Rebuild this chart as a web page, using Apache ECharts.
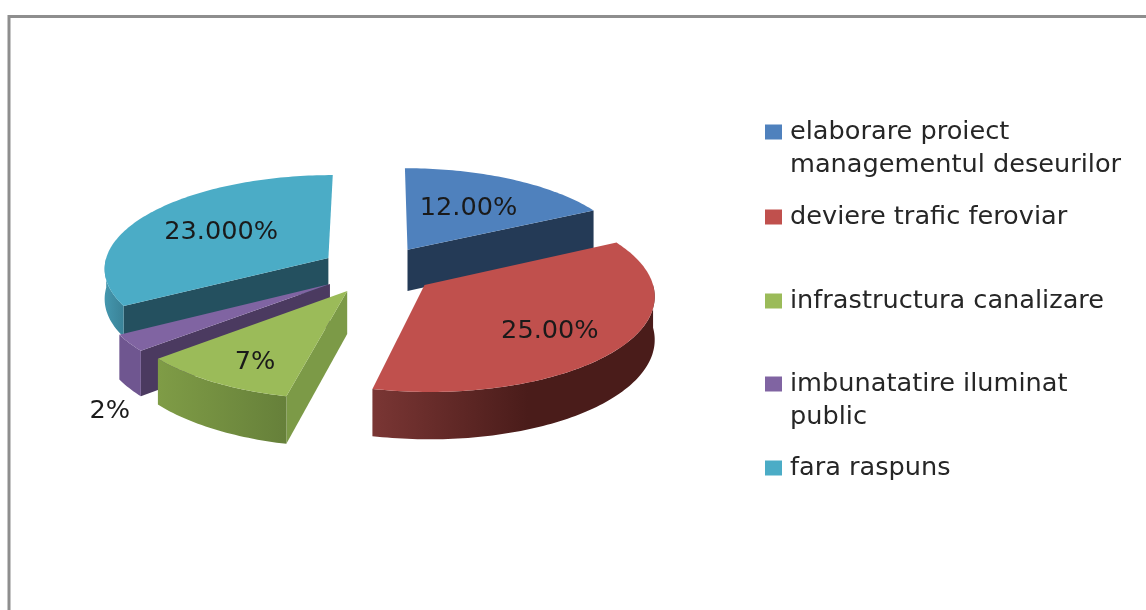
<!DOCTYPE html>
<html>
<head>
<meta charset="utf-8">
<style>
  html, body { margin: 0; padding: 0; background: #fff; }
  #chart { width: 1146px; height: 610px; }
</style>
<script src="https://cdn.jsdelivr.net/npm/echarts@6/dist/echarts.min.js"></script>
</head>
<body>
<div id="chart"></div>
<script>
// data
var categories = ['elaborare proiect\nmanagementul deseurilor', 'deviere trafic feroviar', 'infrastructura canalizare', 'imbunatatire iluminat\npublic', 'fara raspuns'];
var values = [12, 25, 7, 2, 23];
var valueLabels = ['12.00%', '25.00%', '7%', '2%', '23.000%'];

// colours, per slice: top, edge wall, rim wall left, rim wall right
var topColors = ['#4f81bd', '#c0504d', '#9bbb59', '#8064a2', '#4bacc6'];
var edgeColors = ['#243a56', '#4a1d1b', '#7c9a47', '#4b3a60', '#24505f'];
var rimLeft = ['#3a6496', '#7a3634', '#7f9c46', '#6f5690', '#4497ae'];
var rimRight = ['#3a6496', '#4a1c1a', '#66803a', '#6f5690', '#3a8297'];

// layout of the fake 3d pie
var cx = 378, cy = 270, radius = 225, explode = 58, tilt = 0.415, persp = 2300;
var wallDepth = [42, 42, 42, 42, 30];
// label place: fraction of radius from the slice apex, angle nudge in degrees
var labelPlace = [[0.57, 0], [0.69, 4], [0.775, -3.3], [1.43, -19.4], [0.58, 0]];
var legendLineY = [132, 217, 301, 384, 468];
var drawOrder = [0, 4, 3, 2, 1];
var font = '"DejaVu Sans", sans-serif';
var fontSize = 25.6;

var total = values.reduce(function (a, b) { return a + b; }, 0);
var startAngle = [];
values.reduce(function (acc, v, i) { startAngle[i] = acc; return acc + v; }, 0);

function project(x, y, z) {
  var p = 1 / (1 - y / persp);
  return [cx + x * p, cy + y * tilt * p + z * p];
}

function renderSlice(idx) {
  return function (params, api) {
    var a0 = startAngle[idx] / total * Math.PI * 2;
    var a1 = a0 + api.value(0) / total * Math.PI * 2;
    var mid = (a0 + a1) / 2;
    var wall = wallDepth[idx];
    var ex = Math.sin(mid) * explode, ey = -Math.cos(mid) * explode;
    var rim = function (a, z) {
      return project(ex + Math.sin(a) * radius, ey - Math.cos(a) * radius, z);
    };
    var children = [];
    var apexTop = project(ex, ey, 0), apexLow = project(ex, ey, wall);

    // cut faces that look at the viewer
    if (Math.sin(a0) < -0.01) {
      children.push({ type: 'polygon', shape: { points: [apexTop, rim(a0, 0), rim(a0, wall), apexLow] }, style: { fill: edgeColors[idx] } });
    }
    if (Math.sin(a1) > 0.01) {
      children.push({ type: 'polygon', shape: { points: [apexTop, rim(a1, 0), rim(a1, wall), apexLow] }, style: { fill: edgeColors[idx] } });
    }

    // outer wall, front half only
    var f0 = Math.max(a0, Math.PI / 2), f1 = Math.min(a1, Math.PI * 1.5);
    if (f1 > f0) {
      var upper = [], lower = [], n = Math.ceil((f1 - f0) / 0.02);
      for (var i = 0; i <= n; i++) {
        var a = f0 + (f1 - f0) * i / n;
        upper.push(rim(a, 0));
        lower.unshift(rim(a, wall));
      }
      children.push({
        type: 'polygon',
        shape: { points: upper.concat(lower) },
        style: {
          fill: new echarts.graphic.LinearGradient(0, 0, 1, 0, [
            { offset: 0, color: rimLeft[idx] },
            { offset: idx === 1 ? 0.55 : 1, color: rimRight[idx] },
            { offset: 1, color: rimRight[idx] }
          ])
        }
      });
    }

    // top face
    var face = [apexTop], steps = Math.ceil((a1 - a0) / 0.02);
    for (var j = 0; j <= steps; j++) {
      face.push(rim(a0 + (a1 - a0) * j / steps, 0));
    }
    children.push({ type: 'polygon', shape: { points: face }, style: { fill: topColors[idx] } });

    // value label
    var la = mid + labelPlace[idx][1] * Math.PI / 180, lr = labelPlace[idx][0] * radius;
    var lp = project(ex + Math.sin(la) * lr, ey - Math.cos(la) * lr, 0);
    children.push({
      type: 'text',
      style: { text: valueLabels[idx], x: lp[0], y: lp[1], fill: '#1a1a1a', font: fontSize + 'px ' + font, align: 'center', verticalAlign: 'middle' }
    });
    return { type: 'group', children: children };
  };
}

var myChart = echarts.init(document.getElementById('chart'), null, { renderer: 'canvas' });
myChart.setOption({
  animation: false,
  backgroundColor: '#ffffff',
  graphic: [{
    type: 'polyline',
    shape: { points: [[9, 610], [9, 16.5], [1146, 16.5]] },
    style: { fill: null, stroke: '#8e8e8e', lineWidth: 3 },
    silent: true
  }],
  // one legend per entry so each can sit on its own line
  legend: categories.map(function (name, i) {
    var twoLines = name.indexOf('\n') >= 0;
    return {
      data: [name],
      left: 765,
      top: legendLineY[i] - (twoLines ? 49.5 : 16.5),
      padding: 0,
      icon: 'rect',
      itemWidth: 17,
      itemHeight: 15,
      itemGap: 0,
      selectedMode: false,
      // blank first line keeps the marker beside the first text line
      formatter: function (n) { return n.indexOf('\n') >= 0 ? '\n' + n : n; },
      textStyle: { fontFamily: font, fontSize: fontSize, lineHeight: 33, color: '#262626', padding: [0, 0, 0, 3] }
    };
  }),
  series: drawOrder.map(function (i) {
    return {
      type: 'custom',
      name: categories[i],
      coordinateSystem: 'none',
      renderItem: renderSlice(i),
      itemStyle: { color: topColors[i] },
      silent: true,
      data: [[values[i]]]
    };
  })
});
</script>
</body>
</html>
